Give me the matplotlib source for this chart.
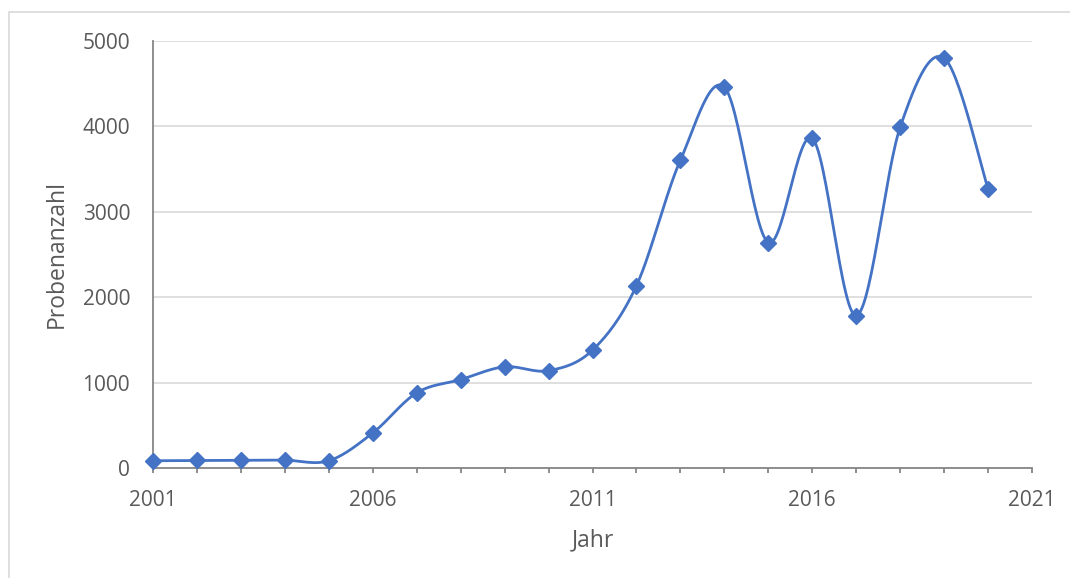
import numpy as np
import matplotlib.pyplot as plt
from matplotlib.patches import Rectangle

jahre = np.arange(2001, 2021)
proben = np.array([85, 88, 92, 92, 85, 410, 880, 1035, 1185, 1140,
                   1380, 2135, 3605, 4460, 2640, 3860, 1785, 3990, 4800, 3270])

blau = "#4472C4"
grau = "#595959"


def glatt(x, y, n=30):
    # Bezier-Glaettung wie in Excel (Catmull-Rom Tangenten)
    px = np.concatenate([[x[0]], x, [x[-1]]])
    py = np.concatenate([[y[0]], y, [y[-1]]])
    xs, ys = [], []
    t = np.linspace(0, 1, n)
    for i in range(1, len(px) - 2):
        p0 = np.array([px[i], py[i]])
        p3 = np.array([px[i + 1], py[i + 1]])
        p1 = p0 + (np.array([px[i + 1], py[i + 1]]) - np.array([px[i - 1], py[i - 1]])) / 6
        p2 = p3 - (np.array([px[i + 2], py[i + 2]]) - np.array([px[i], py[i]])) / 6
        b = ((1 - t) ** 3)[:, None] * p0 + (3 * (1 - t) ** 2 * t)[:, None] * p1 \
            + (3 * (1 - t) * t ** 2)[:, None] * p2 + (t ** 3)[:, None] * p3
        xs.extend(b[:, 0])
        ys.extend(b[:, 1])
    return np.array(xs), np.array(ys)


plt.rcParams['font.family'] = ['Open Sans', 'DejaVu Sans']

fig = plt.figure(figsize=(10.7, 5.78), dpi=100)
fig.patches.append(Rectangle((9 / 1070, -0.1), 1.2, 1 - 12 / 578 + 0.1,
                             transform=fig.transFigure, fill=False,
                             edgecolor="#d9d9d9", linewidth=1.2))

ax = fig.add_axes([153 / 1070, 1 - 468 / 578, (1032 - 153) / 1070, (468 - 41) / 578])

gx, gy = glatt(jahre.astype(float), proben.astype(float))
ax.plot(gx, gy, color=blau, linewidth=2, zorder=3)
ax.plot(jahre, proben, linestyle="none", marker="D", markersize=8,
        color=blau, zorder=4, clip_on=False)

ax.set_xlim(2001, 2021)
ax.set_ylim(0, 5000)
ax.set_xticks(np.arange(2001, 2022, 5))
ax.set_xticks(np.arange(2001, 2022, 1), minor=True)
ax.set_yticks(np.arange(0, 5001, 1000))

ax.grid(axis="y", color="#d9d9d9", linewidth=1.2)
ax.set_axisbelow(True)
for s in ["top", "right"]:
    ax.spines[s].set_visible(False)
ax.spines["left"].set_color("#868686")
ax.spines["bottom"].set_color("#868686")
ax.spines["left"].set_linewidth(1.3)
ax.spines["bottom"].set_linewidth(1.3)

ax.tick_params(axis="y", length=0, pad=16.5, labelsize=15, labelcolor=grau)
ax.tick_params(axis="x", which="both", length=3.6, width=1.3, color="#868686",
               pad=12, labelsize=15, labelcolor=grau)

ax.set_xlabel("Jahr", fontsize=16.5, color=grau, labelpad=13)
ax.set_ylabel("Probenanzahl", fontsize=16.5, color=grau, labelpad=10)

fig.savefig("out.png", dpi=100)
